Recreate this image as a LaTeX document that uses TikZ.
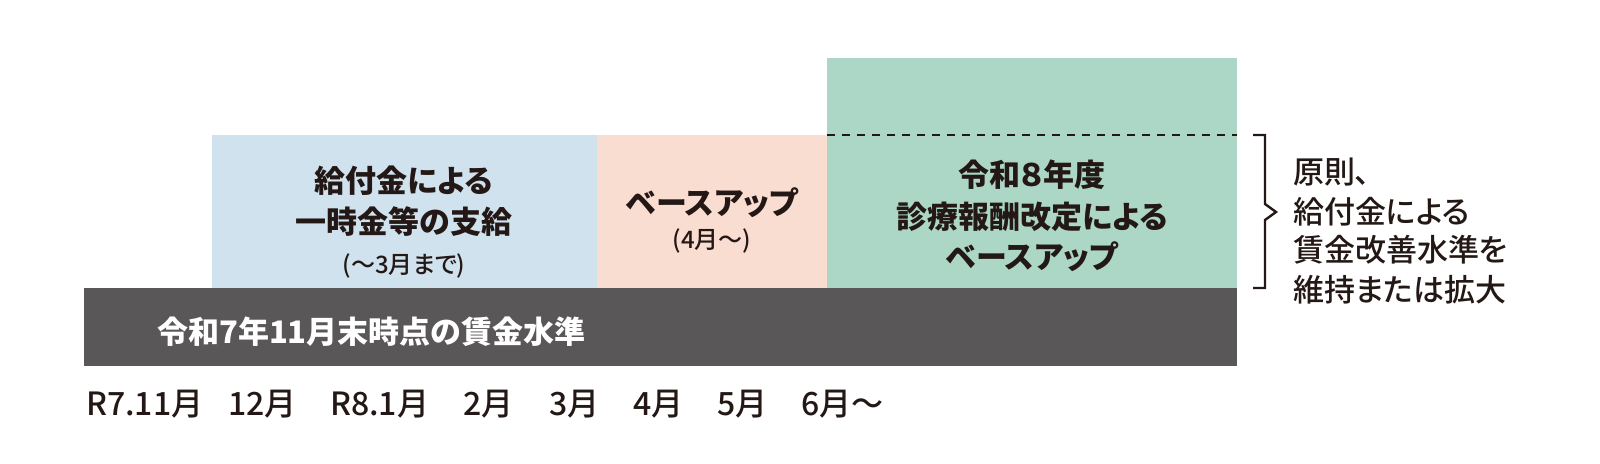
\documentclass[tikz,border=0pt]{standalone}
\usepackage{fontspec}
\setmainfont{Noto Sans CJK JP}[RawFeature={+palt}]
\newfontfamily\jpmed{Noto Sans CJK JP Medium}[RawFeature={+palt}]
\definecolor{ink}{HTML}{231815}
\definecolor{bluebox}{HTML}{D0E2EE}
\definecolor{pinkbox}{HTML}{F9DDD1}
\definecolor{greenbox}{HTML}{ACD7C6}
\definecolor{darkbar}{HTML}{595757}
\tikzset{
  lbl/.style={anchor=base, inner sep=0pt, text=ink},
  hd/.style={lbl, font=\bfseries\fontsize{31bp}{31bp}\selectfont},
  sm/.style={lbl, font=\jpmed\fontsize{24bp}{24bp}\selectfont},
  month/.style={lbl, anchor=base west, font=\jpmed\fontsize{32bp}{32bp}\selectfont},
  note/.style={lbl, anchor=base west, font=\jpmed\fontsize{31bp}{31bp}\selectfont},
  bar/.style={lbl, anchor=base west, text=white, font=\bfseries\fontsize{31bp}{31bp}\selectfont},
  brace/.style={draw=ink, line width=2.4bp, line join=miter},
  divider/.style={draw=ink, line width=2bp, dash pattern=on 8bp off 7bp}
}
\begin{document}
\begin{tikzpicture}[x=1bp, y=-1bp]
\useasboundingbox (0,0) rectangle (1600,464);
% boxes
\fill[bluebox] (212,135) rectangle (597,289);
\fill[pinkbox] (597,135) rectangle (827,289);
\fill[greenbox] (827,58) rectangle (1237,289);
\fill[darkbar] (84,288) rectangle (1237,366);
\draw[divider] (827,135) -- (1237,135);
% blue box text
\node[hd] (b1) at (404,193) {給付金による};
\node[hd] (b2) at (404,234) {一時金等の支給};
\node[sm] (b3) at (404,274) {(～3月まで)};
% pink box text
\node[hd] (p1) at (712,215) {ベースアップ};
\node[sm] (p2) at (712,249) {(4月～)};
% green box text
\node[hd] (g1) at (1032,187) {令和８年度};
\node[hd] (g2) at (1032,229) {診療報酬改定による};
\node[hd] (g3) at (1032,269) {ベースアップ};
% dark bar text
\node[bar] (d1) at (157,344) {令和7年11月末時点の賃金水準};
% months
\node[month] (m1) at (86,415) {R7.11月};
\node[month] (m2) at (228,415) {12月};
\node[month] (m3) at (330,415) {R8.1月};
\node[month] (m4) at (463,415) {2月};
\node[month] (m5) at (549,415) {3月};
\node[month] (m6) at (633,415) {4月};
\node[month] (m7) at (717,415) {5月};
\node[month] (m8) at (801,415) {6月～};
% brace
\draw[brace] (1253,135) -- (1265,135) -- (1265,204) -- (1276,212) -- (1265,220) -- (1265,288) -- (1253,288);
% note
\node[note] (n1) at (1293,184) {原則、};
\node[note] (n2) at (1293,224) {給付金による};
\node[note] (n3) at (1293,262) {賃金改善水準を};
\node[note] (n4) at (1293,302) {維持または拡大};
\end{tikzpicture}
\end{document}
